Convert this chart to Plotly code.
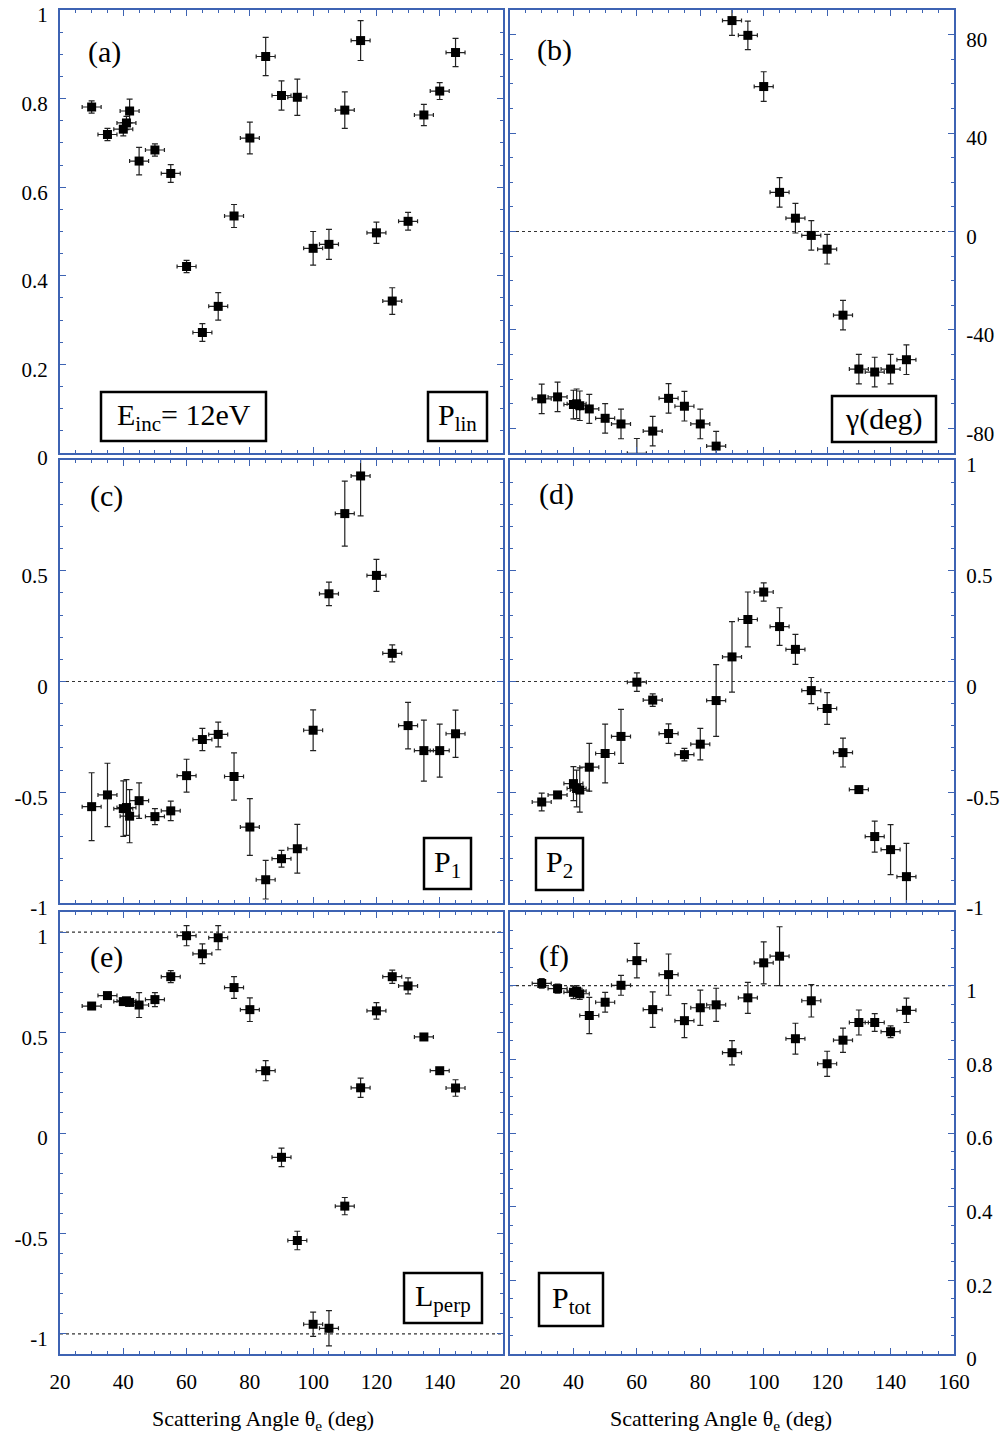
import numpy as np
import plotly.graph_objects as go

# ---------------- data ----------------
THETA = [30, 35, 40, 41, 42, 45, 50, 55, 60, 65, 70, 75, 80, 85, 90, 95,
         100, 105, 110, 115, 120, 125, 130, 135, 140, 145]
THETA_ERR = 3.0

P_LIN = [0.781, 0.719, 0.731, 0.745, 0.772, 0.659, 0.684, 0.631, 0.421, 0.272,
         0.331, 0.535, 0.711, 0.895, 0.807, 0.803, 0.462, 0.471, 0.774, 0.931,
         0.497, 0.343, 0.523, 0.763, 0.817, 0.904]
P_LIN_ERR = [0.014, 0.014, 0.015, 0.015, 0.027, 0.031, 0.014, 0.020, 0.014, 0.020,
             0.031, 0.026, 0.036, 0.043, 0.033, 0.041, 0.038, 0.034, 0.041, 0.045,
             0.024, 0.030, 0.020, 0.024, 0.019, 0.032]

GAMMA = [-68.0, -67.2, -70.3, -70.0, -70.8, -72.1, -75.9, -78.2, -90.1, -81.1,
         -67.8, -71.0, -78.2, -87.2, 85.7, 79.7, 58.9, 15.9, 5.4, -1.6,
         -7.2, -34.0, -55.9, -57.1, -55.9, -52.1]
GAMMA_ERR = [6.0, 6.0, 5.8, 6.0, 6.0, 5.9, 6.0, 6.0, 6.0, 6.0,
             6.0, 6.0, 6.0, 6.0, 6.0, 5.8, 6.0, 6.0, 6.0, 6.0,
             6.0, 6.0, 6.0, 6.0, 6.0, 6.0]

P1 = [-0.565, -0.512, -0.574, -0.569, -0.608, -0.538, -0.610, -0.584, -0.425, -0.262,
      -0.239, -0.429, -0.657, -0.895, -0.800, -0.755, -0.220, 0.396, 0.758, 0.928,
      0.479, 0.127, -0.199, -0.312, -0.312, -0.236]
P1_ERR = [0.153, 0.143, 0.125, 0.126, 0.120, 0.080, 0.036, 0.044, 0.074, 0.050,
          0.056, 0.107, 0.128, 0.087, 0.038, 0.110, 0.092, 0.053, 0.147, 0.180,
          0.072, 0.038, 0.105, 0.138, 0.120, 0.107]

P2 = [-0.544, -0.512, -0.461, -0.483, -0.490, -0.387, -0.325, -0.248, -0.003, -0.084,
      -0.235, -0.330, -0.283, -0.086, 0.111, 0.280, 0.404, 0.248, 0.145, -0.041,
      -0.122, -0.321, -0.488, -0.700, -0.759, -0.881]
P2_ERR = [0.040, 0.012, 0.077, 0.083, 0.100, 0.108, 0.133, 0.122, 0.042, 0.028,
          0.044, 0.028, 0.071, 0.162, 0.159, 0.124, 0.041, 0.085, 0.068, 0.059,
          0.072, 0.065, 0.015, 0.070, 0.113, 0.150]

L_PERP = [0.632, 0.684, 0.654, 0.658, 0.650, 0.637, 0.664, 0.778, 0.982, 0.892,
          0.972, 0.724, 0.614, 0.310, -0.121, -0.535, -0.952, -0.972, -0.364, 0.225,
          0.608, 0.778, 0.732, 0.478, 0.310, 0.224]
L_PERP_ERR = [0.010, 0.010, 0.010, 0.012, 0.010, 0.062, 0.035, 0.030, 0.050, 0.049,
              0.060, 0.054, 0.059, 0.050, 0.046, 0.046, 0.060, 0.088, 0.043, 0.048,
              0.041, 0.033, 0.040, 0.015, 0.012, 0.041]

P_TOT = [1.006, 0.992, 0.982, 0.985, 0.978, 0.919, 0.955, 1.001, 1.068, 0.935,
         1.030, 0.905, 0.940, 0.948, 0.818, 0.967, 1.062, 1.080, 0.856, 0.959,
         0.788, 0.852, 0.900, 0.900, 0.875, 0.933]
P_TOT_ERR = [0.013, 0.012, 0.017, 0.015, 0.015, 0.049, 0.027, 0.027, 0.047, 0.048,
             0.056, 0.046, 0.048, 0.045, 0.033, 0.042, 0.057, 0.080, 0.042, 0.044,
             0.034, 0.033, 0.034, 0.024, 0.016, 0.033]

# tick labels
X_TICKS = [20, 40, 60, 80, 100, 120, 140, 160]
X_TICKTEXT_LEFT = ["20", "40", "60", "80", "100", "120", "140", ""]
X_TICKTEXT_RIGHT = ["20", "40", "60", "80", "100", "120", "140", "160"]
X_MINOR = [v for v in range(20, 161, 5) if v % 20]

X_TITLE = "Scattering Angle θ<sub>e</sub> (deg)"

# ---------------- style / layout ----------------
W, H = 1006, 1439
BLUE = "#3d63b3"
FONT = "Liberation Serif, Times New Roman, serif"

COLS = [(60, 503), (510, 954)]
ROWS = [(10, 453), (460, 903), (912, 1354)]


def fx(p):
    return p / W


def fy(p):
    return 1 - p / H


def minor_vals(lo, hi, step, majors):
    vals = np.round(np.arange(lo, hi + step / 2, step), 6)
    return [float(v) for v in vals if not np.any(np.isclose(v, majors))]


panels = [
    dict(y=P_LIN, e=P_LIN_ERR, rng=[0, 1], major=[0, 0.2, 0.4, 0.6, 0.8, 1],
         labels=["0", "0.2", "0.4", "0.6", "0.8", "1"], mstep=0.05,
         refs=[], tag="(a)", tagpos=(86, 52)),
    dict(y=GAMMA, e=GAMMA_ERR, rng=[-90, 90], major=[-80, -40, 0, 40, 80],
         labels=["-80", "-40", "0", "40", "80"], mstep=10,
         refs=[0], tag="(b)", tagpos=(535, 50)),
    dict(y=P1, e=P1_ERR, rng=[-1, 1], major=[-1, -0.5, 0, 0.5, 1],
         labels=["-1", "-0.5", "0", "0.5", ""], mstep=0.1,
         refs=[0], tag="(c)", tagpos=(88, 496)),
    dict(y=P2, e=P2_ERR, rng=[-1, 1], major=[-1, -0.5, 0, 0.5, 1],
         labels=["-1", "-0.5", "0", "0.5", "1"], mstep=0.1,
         refs=[0], tag="(d)", tagpos=(537, 494)),
    dict(y=L_PERP, e=L_PERP_ERR, rng=[-1.1, 1.1], major=[-1, -0.5, 0, 0.5, 1],
         labels=["-1", "-0.5", "0", "0.5", "1"], mstep=0.1,
         refs=[-1, 1], tag="(e)", tagpos=(88, 957)),
    dict(y=P_TOT, e=P_TOT_ERR, rng=[0, 1.2], major=[0, 0.2, 0.4, 0.6, 0.8, 1],
         labels=["0", "0.2", "0.4", "0.6", "0.8", "1"], mstep=0.05,
         refs=[1], tag="(f)", tagpos=(537, 956)),
]

# label boxes: (text, left, top, right, bottom) in pixels
BOXES = [
    ("E<sub>inc</sub>= 12eV", 101, 392, 266, 441),
    ("P<sub>lin</sub>", 428, 392, 487, 441),
    ("γ(deg)", 832, 396, 936, 442),
    ("P<sub>1</sub>", 424, 838, 471, 889),
    ("P<sub>2</sub>", 536, 838, 583, 890),
    ("L<sub>perp</sub>", 404, 1273, 482, 1323),
    ("P<sub>tot</sub>", 539, 1273, 603, 1326),
]

fig = go.Figure()
layout = dict(
    width=W, height=H, margin=dict(l=0, r=0, t=0, b=0, autoexpand=False),
    paper_bgcolor="white", plot_bgcolor="white", showlegend=False,
    font=dict(family=FONT, size=20, color="black"),
)
shapes = []
annotations = []

for i, p in enumerate(panels):
    n = i + 1
    row, col = i // 2, i % 2
    xs = "" if n == 1 else str(n)
    x0, x1 = COLS[col]
    y0, y1 = ROWS[row]

    fig.add_trace(go.Scatter(
        x=THETA, y=p["y"], mode="markers",
        xaxis="x" + xs, yaxis="y" + xs,
        marker=dict(symbol="square", size=9, color="black"),
        error_y=dict(type="data", array=p["e"], visible=True,
                     color="#222222", thickness=1.2, width=3),
        error_x=dict(type="constant", value=THETA_ERR, visible=True,
                     color="#222222", thickness=1.2, width=2),
        cliponaxis=False,
    ))

    bottom = row == 2
    layout["xaxis" + xs] = dict(
        domain=[fx(x0), fx(x1)], anchor="y" + xs, range=[20, 160],
        automargin=False, ticklabeloverflow="allow", ticklabelstandoff=8,
        tickmode="array", tickvals=X_TICKS,
        ticktext=X_TICKTEXT_LEFT if col == 0 else X_TICKTEXT_RIGHT,
        showticklabels=bottom,
        ticks="inside", ticklen=6, tickwidth=1, tickcolor=BLUE,
        minor=dict(tickmode="array", tickvals=X_MINOR, ticks="inside",
                   ticklen=3, tickwidth=1, tickcolor=BLUE, showgrid=False),
        showline=True, linecolor=BLUE, linewidth=2, mirror="allticks",
        showgrid=False, zeroline=False,
        tickfont=dict(family=FONT, size=21, color="black"),
    )
    layout["yaxis" + xs] = dict(
        domain=[fy(y1), fy(y0)], anchor="x" + xs, range=p["rng"],
        automargin=False, ticklabeloverflow="allow", ticklabelstandoff=6,
        ticklabelshift=5,
        side="left" if col == 0 else "right",
        tickmode="array", tickvals=p["major"], ticktext=p["labels"],
        ticks="inside", ticklen=6, tickwidth=1, tickcolor=BLUE,
        minor=dict(tickmode="array",
                   tickvals=minor_vals(p["rng"][0], p["rng"][1], p["mstep"], p["major"]),
                   ticks="inside", ticklen=3, tickwidth=1, tickcolor=BLUE,
                   showgrid=False),
        showline=True, linecolor=BLUE, linewidth=2, mirror="allticks",
        showgrid=False, zeroline=False,
        tickfont=dict(family=FONT, size=21, color="black"),
    )

    for r in p["refs"]:
        shapes.append(dict(type="line", xref="x" + xs + " domain", x0=0, x1=1,
                           yref="y" + xs, y0=r, y1=r, layer="below",
                           line=dict(color="#333333", width=1.2, dash="dot")))

    tx, ty = p["tagpos"]
    annotations.append(dict(text=p["tag"], xref="paper", yref="paper",
                            x=fx(tx), y=fy(ty), xanchor="left", yanchor="middle",
                            showarrow=False,
                            font=dict(family=FONT, size=30, color="black")))

for text, l, t, r, b in BOXES:
    shapes.append(dict(type="rect", xref="paper", yref="paper",
                       x0=fx(l), x1=fx(r), y0=fy(b), y1=fy(t),
                       line=dict(color="black", width=2.5), fillcolor="white",
                       layer="above"))
    annotations.append(dict(text=text, xref="paper", yref="paper",
                            x=fx((l + r) / 2), y=fy((t + b) / 2),
                            xanchor="center", yanchor="middle", showarrow=False,
                            font=dict(family=FONT, size=30, color="black")))

for cx in (263, 721):
    annotations.append(dict(text=X_TITLE, xref="paper", yref="paper",
                            x=fx(cx), y=fy(1420), xanchor="center", yanchor="middle",
                            showarrow=False,
                            font=dict(family=FONT, size=22, color="black")))

layout["shapes"] = shapes
layout["annotations"] = annotations
fig.update_layout(**layout)
fig.write_html("out.html")
